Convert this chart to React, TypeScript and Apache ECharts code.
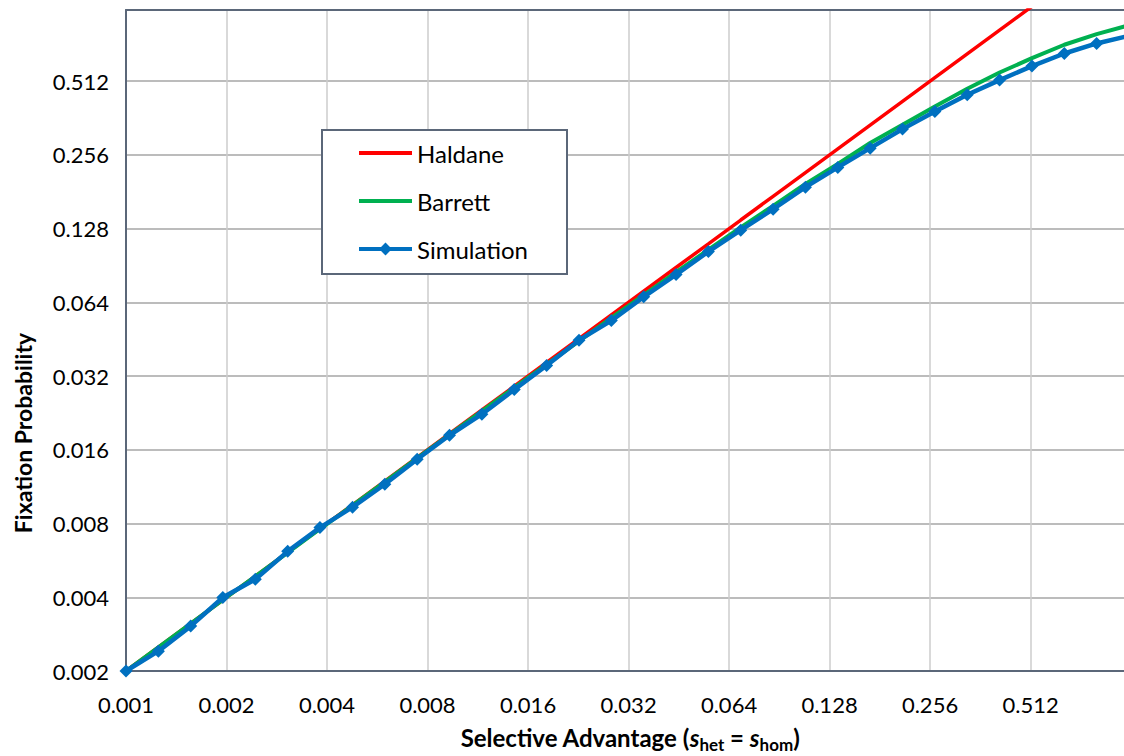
import React, { useEffect, useRef } from "react";
import * as echarts from "echarts";

// Selective advantage sample points (s_het = s_hom)
const selectiveAdvantage = [
  0.001, 0.00125, 0.0015625, 0.00195, 0.00244, 0.00305, 0.00381, 0.00477,
  0.00596, 0.00745, 0.00931, 0.01164, 0.01455, 0.01819, 0.02274, 0.02842,
  0.03553, 0.04441, 0.05551, 0.06939, 0.08674, 0.10842, 0.13553, 0.16941,
  0.21176, 0.2647, 0.33087, 0.41359, 0.51699, 0.64624, 0.80779, 1.00974,
];

// Haldane approximation
const haldane = [
  0.002, 0.0025, 0.003125, 0.0039, 0.00488, 0.0061, 0.00763, 0.00954, 0.01192,
  0.0149, 0.01863, 0.02328, 0.0291, 0.03638, 0.04547, 0.05684, 0.07105,
  0.08882, 0.111, 0.1388, 0.1735, 0.2168, 0.2711, 0.3388, 0.4235, 0.5294,
  0.6617, 0.8272, 1.034,
];

// Barrett curve
const barrett = [
  0.002, 0.0025, 0.00312, 0.0039, 0.00487, 0.00608, 0.0076, 0.00949, 0.01185,
  0.01479, 0.01845, 0.02302, 0.02869, 0.03573, 0.04446, 0.05526, 0.06857,
  0.08495, 0.105, 0.1294, 0.1586, 0.195, 0.2354, 0.2864, 0.3398, 0.4036,
  0.4766, 0.5556, 0.636, 0.7212, 0.797, 0.866,
];

// Simulation results
const simulation = [
  0.002, 0.00241, 0.00305, 0.00399, 0.00474, 0.00616, 0.0077, 0.00933,
  0.01158, 0.01464, 0.01835, 0.02236, 0.02819, 0.03534, 0.04485, 0.05394,
  0.0674, 0.0831, 0.1032, 0.1262, 0.1537, 0.1891, 0.2276, 0.2729, 0.3263,
  0.3851, 0.4506, 0.5174, 0.5902, 0.6644, 0.7302, 0.785,
];

const seriesNames = ["Haldane", "Barrett", "Simulation"];

const X_BASE = 0.001;
const Y_BASE = 0.002;
const X_MAX_VALUE = 1.0;
const Y_MAX_VALUE = 1.0;

const FONT = "Lato, 'Open Sans', sans-serif";
const BORDER = "#5b6779";

const toXY = (vals: number[]) =>
  vals.map((v, i) => [
    Math.log2(selectiveAdvantage[i] / X_BASE),
    Math.log2(v / Y_BASE),
  ]);

export default function App() {
  const ref = useRef<HTMLDivElement>(null);

  useEffect(() => {
    if (!ref.current) return;
    const chart = echarts.init(ref.current, null, { renderer: "svg" });
    const xMax = Math.log2(X_MAX_VALUE / X_BASE);
    const yMax = Math.log2(Y_MAX_VALUE / Y_BASE);

    const labelStyle = {
      fontFamily: FONT,
      fontSize: 22,
      color: "#000",
    };

    const option: any = {
      animation: false,
      backgroundColor: "#fff",
      grid: { left: 126, top: 10, right: 2.4, bottom: 85 },
      xAxis: [
        {
          type: "value",
          min: 0,
          max: xMax,
          interval: 1,
          axisLine: { show: true, onZero: false, lineStyle: { color: BORDER, width: 2 } },
          axisTick: { show: false },
          axisLabel: {
            ...labelStyle,
            margin: 22,
            showMaxLabel: false,
            formatter: (v: number) => (X_BASE * Math.pow(2, v)).toFixed(3),
          },
          splitLine: {
            show: true,
            showMinLine: false,
            lineStyle: { color: "#cccccc", width: 1.5 },
          },
        },
        {
          type: "value",
          position: "top",
          min: 0,
          max: xMax,
          interval: 1,
          axisLine: { show: true, onZero: false, lineStyle: { color: BORDER, width: 2 } },
          axisTick: { show: false },
          axisLabel: { show: false },
          splitLine: { show: false },
        },
      ],
      yAxis: {
        type: "value",
        min: 0,
        max: yMax,
        interval: 1,
        axisLine: { show: true, onZero: false, lineStyle: { color: BORDER, width: 2 } },
        axisTick: { show: false },
        axisLabel: {
          ...labelStyle,
          margin: 17,
          showMaxLabel: false,
          formatter: (v: number) => (Y_BASE * Math.pow(2, v)).toFixed(3),
        },
        splitLine: {
          show: true,
          showMinLine: false,
          showMaxLine: false,
          lineStyle: { color: "#a6a6a6", width: 1.5 },
        },
      },
      legend: {
        orient: "vertical",
        left: 357,
        top: 141,
        padding: 0,
        itemWidth: 53,
        itemHeight: 16,
        itemGap: 24,
        z: 10,
        lineStyle: { width: 4 },
        textStyle: { fontFamily: FONT, fontSize: 24, color: "#000", lineHeight: 24 },
        data: [
          { name: seriesNames[0], itemStyle: { opacity: 0 } },
          { name: seriesNames[1], itemStyle: { opacity: 0 } },
          { name: seriesNames[2] },
        ],
      },
      graphic: [
        {
          type: "rect",
          z: 5,
          shape: { x: 322, y: 130, width: 245, height: 144 },
          style: { fill: "#fff", stroke: BORDER, lineWidth: 2 },
        },
        {
          type: "text",
          z: 5,
          x: 23,
          y: 433,
          rotation: Math.PI / 2,
          style: {
            text: "Fixation Probability",
            fontFamily: FONT,
            fontWeight: "bold",
            fontSize: 23,
            fill: "#000",
            align: "center",
            verticalAlign: "middle",
          },
        },
        {
          type: "text",
          z: 5,
          x: 630,
          y: 737,
          style: {
            text: "{b|Selective Advantage (}{i|s}{sub|het}{b| = }{i|s}{sub|hom}{b|)}",
            align: "center",
            verticalAlign: "middle",
            rich: {
              b: { fontFamily: FONT, fontWeight: "bold", fontSize: 24, lineHeight: 32, fill: "#000" },
              i: { fontFamily: FONT, fontWeight: "bold", fontStyle: "italic", fontSize: 24, lineHeight: 32, fill: "#000" },
              sub: { fontFamily: FONT, fontWeight: "bold", fontSize: 17, lineHeight: 32, verticalAlign: "bottom", fill: "#000" },
            },
          },
        },
      ],
      series: [
        {
          name: seriesNames[0],
          type: "line",
          data: toXY(haldane),
          symbol: "none",
          clip: true,
          lineStyle: { color: "#ff0000", width: 3.5 },
          itemStyle: { color: "#ff0000" },
        },
        {
          name: seriesNames[1],
          type: "line",
          data: toXY(barrett),
          symbol: "none",
          clip: true,
          lineStyle: { color: "#00b050", width: 4 },
          itemStyle: { color: "#00b050" },
        },
        {
          name: seriesNames[2],
          type: "line",
          data: toXY(simulation),
          symbol: "diamond",
          symbolSize: 13,
          showAllSymbol: true,
          clip: true,
          lineStyle: { color: "#0070c0", width: 4.5 },
          itemStyle: { color: "#0070c0", borderWidth: 0 },
        },
      ],
    };

    chart.setOption(option);
    return () => chart.dispose();
  }, []);

  return (
    <div
      style={{
        position: "fixed",
        left: 0,
        top: 0,
        width: 1124,
        height: 756,
        overflow: "hidden",
        background: "#fff",
      }}
    >
      <div ref={ref} style={{ width: 1130, height: 756 }} />
    </div>
  );
}
